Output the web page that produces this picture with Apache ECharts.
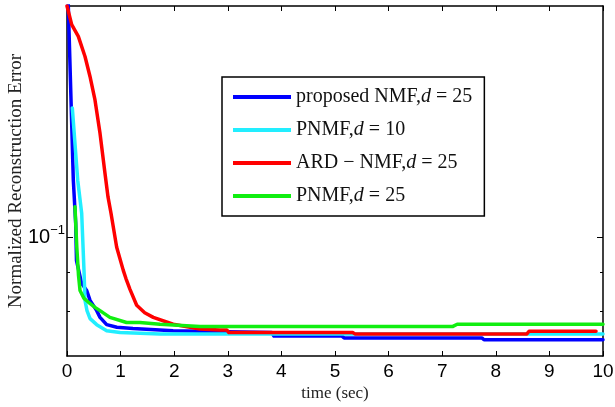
<!DOCTYPE html>
<html>
<head>
<meta charset="utf-8">
<script src="https://cdn.jsdelivr.net/npm/echarts@6/dist/echarts.min.js"></script>
<style>html,body{margin:0;padding:0;background:#fff;}#c{width:615px;height:407px;}</style>
</head>
<body>
<div id="c"></div>
<script>
// ---- data (time in sec, normalized reconstruction error) ----
const seriesNames = ['proposed NMF,d = 25', 'PNMF,d = 10', 'ARD − NMF,d = 25', 'PNMF,d = 25'];
const xTicks = [0,1,2,3,4,5,6,7,8,9,10];
const yMajorTicks = [0.1];
const yMinorTicks = [0.08, 0.09];

const blueT = [0.02, 0.118, 0.162, 0.177, 0.274, 0.368, 0.43, 0.554, 0.616, 0.74, 0.93, 1.23, 1.98, 2.48, 3.82, 3.86, 5.13, 5.17, 7.74, 7.78, 10];
const blueV = [0.205, 0.1186, 0.1042, 0.0932, 0.0870, 0.0852, 0.0827, 0.0802, 0.0786, 0.0769, 0.0763, 0.0760, 0.0755, 0.0754, 0.0751, 0.0743, 0.0743, 0.0739, 0.0739, 0.0735, 0.0735];

const cyanT = [0.099, 0.2, 0.274, 0.317, 0.336, 0.373, 0.43, 0.554, 0.74, 0.99, 1.735, 2.67, 10];
const cyanV = [0.1473, 0.1186, 0.1074, 0.0905, 0.0827, 0.0802, 0.0783, 0.0769, 0.0755, 0.0751, 0.0748, 0.0748, 0.0748];

const redT = [0, 0.088, 0.211, 0.336, 0.429, 0.522, 0.616, 0.709, 0.765, 0.821, 0.927, 1.05, 1.10, 1.175, 1.3, 1.45, 1.61, 1.98, 2.48, 2.85, 2.98, 3.02, 5.33, 5.37, 8.58, 8.62, 9.87];
const redV = [0.2, 0.1891, 0.1826, 0.1719, 0.1619, 0.1509, 0.1365, 0.1210, 0.1128, 0.1074, 0.0970, 0.0905, 0.0883, 0.0855, 0.0815, 0.0797, 0.0786, 0.0770, 0.0759, 0.0757, 0.0757, 0.0751, 0.0751, 0.0748, 0.0748, 0.0754, 0.0754];

const greenT = [0.149, 0.183, 0.215, 0.243, 0.317, 0.397, 0.522, 0.616, 0.80, 1.11, 1.36, 1.735, 2.48, 2.85, 7.2, 7.28, 10];
const greenV = [0.1095, 0.0970, 0.0891, 0.0852, 0.0832, 0.0823, 0.0810, 0.0802, 0.0786, 0.0774, 0.0774, 0.0770, 0.0765, 0.0765, 0.0765, 0.0770, 0.0770];

const colors = ['#0000ff', '#22eeff', '#ff0000', '#11ee11'];

// ---- chart ----
const zip = (t, v) => t.map((x, i) => [x, v[i]]);
const seriesData = [zip(blueT, blueV), zip(cyanT, cyanV), zip(redT, redV), zip(greenT, greenV)];

const chart = echarts.init(document.getElementById('c'), null, {renderer: 'canvas'});
const axisLine = {show: true, lineStyle: {color: '#000', width: 1.5}};
const yBase = {type: 'log', logBase: 10, min: 0.07, max: 0.2, splitLine: {show: false}, minorTick: {show: false}, nameMoveOverlap: false};
const xBase = {type: 'value', min: 0, max: 10, interval: 1, splitLine: {show: false}, nameMoveOverlap: false};

const option = {
  animation: false,
  backgroundColor: '#fff',
  grid: {left: 67, right: 12, top: 6, bottom: 51, containLabel: false, outerBoundsMode: 'none'},
  xAxis: [
    Object.assign({}, xBase, {
      position: 'bottom',
      axisLine: axisLine,
      axisTick: {show: true, inside: true, length: 5, lineStyle: {color: '#000', width: 1}},
      axisLabel: {show: true, margin: 6, color: '#000', fontFamily: 'Liberation Sans', fontSize: 19,
        customValues: xTicks},
      name: 'time (sec)', nameLocation: 'middle', nameGap: 29,
      nameTextStyle: {fontFamily: 'Liberation Serif', fontSize: 17, color: '#222'}
    }),
    Object.assign({}, xBase, {
      position: 'top',
      axisLine: axisLine,
      axisTick: {show: true, inside: true, length: 5, lineStyle: {color: '#000', width: 1}},
      axisLabel: {show: false}
    })
  ],
  yAxis: [
    Object.assign({}, yBase, {
      position: 'left',
      axisLine: axisLine,
      axisTick: {show: true, inside: true, length: 6, customValues: yMajorTicks, lineStyle: {color: '#000', width: 1}},
      axisLabel: {show: true, margin: 2, customValues: yMajorTicks, color: '#000',
        formatter: function () { return '{b|10}{s|−1}'; },
        rich: {
          b: {fontFamily: 'Liberation Sans', fontSize: 20, lineHeight: 26, verticalAlign: 'middle', color: '#000'},
          s: {fontFamily: 'Liberation Sans', fontSize: 13, lineHeight: 26, verticalAlign: 'top', color: '#000'}
        }},
      name: 'Normalized Reconstruction Error', nameLocation: 'middle', nameGap: 41, nameRotate: 90,
      nameTextStyle: {fontFamily: 'Liberation Serif', fontSize: 19, color: '#222'}
    }),
    Object.assign({}, yBase, {
      position: 'left',
      axisLine: {show: false},
      axisTick: {show: true, inside: true, length: 3, customValues: yMinorTicks, lineStyle: {color: '#000', width: 1}},
      axisLabel: {show: false}
    }),
    Object.assign({}, yBase, {
      position: 'right',
      axisLine: axisLine,
      axisTick: {show: true, inside: true, length: 6, customValues: yMajorTicks, lineStyle: {color: '#000', width: 1}},
      axisLabel: {show: false}
    }),
    Object.assign({}, yBase, {
      position: 'right',
      axisLine: {show: false},
      axisTick: {show: true, inside: true, length: 3, customValues: yMinorTicks, lineStyle: {color: '#000', width: 1}},
      axisLabel: {show: false}
    })
  ],
  legend: {
    show: true,
    orient: 'vertical',
    left: 222, top: 77,
    padding: [9, 12, 9, 11],
    backgroundColor: '#fff',
    borderColor: '#000',
    borderWidth: 1.5,
    borderRadius: 0,
    itemGap: 11,
    itemWidth: 58,
    itemHeight: 4,
    icon: 'rect',
    data: seriesNames,
    formatter: function (name) { return name.replace('d =', '{i|d} ='); },
    textStyle: {
      fontFamily: 'Liberation Serif', fontSize: 20, lineHeight: 22, color: '#111',
      rich: {i: {fontFamily: 'Liberation Serif', fontStyle: 'italic', fontSize: 20, lineHeight: 22, color: '#111'}}
    }
  },
  series: seriesNames.map((n, i) => ({
    name: n,
    type: 'line',
    xAxisIndex: 0,
    yAxisIndex: 0,
    data: seriesData[i],
    showSymbol: false,
    symbol: 'none',
    clip: true,
    color: colors[i],
    lineStyle: {color: colors[i], width: 3.5, join: 'round', cap: 'round'},
    itemStyle: {color: colors[i]},
    z: 2 + i
  }))
};
chart.setOption(option);
</script>
</body>
</html>
